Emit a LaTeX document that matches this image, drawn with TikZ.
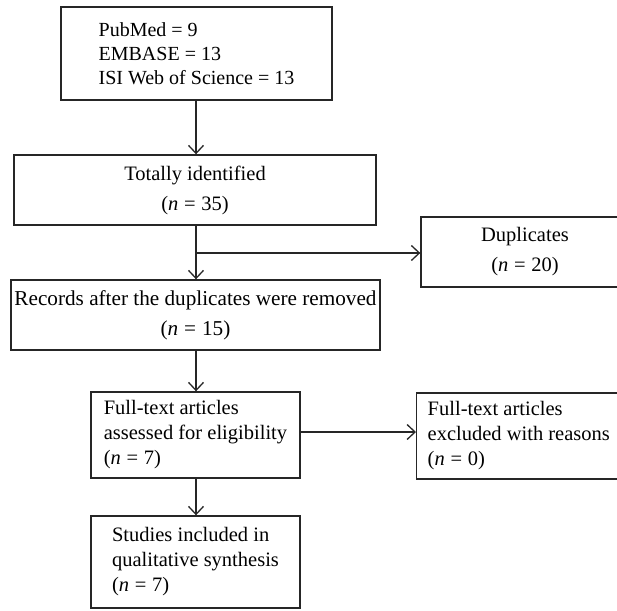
\documentclass[tikz,border=0pt]{standalone}
\usepackage{fontspec}
\setmainfont{Liberation Serif}
\usetikzlibrary{arrows.meta,calc}
\newcommand{\nn}[1]{(\textit{n}\hspace{0.28em}=\hspace{0.28em}#1)}
\begin{document}
\begin{tikzpicture}[x=1pt,y=-1pt,
  box/.style={draw=black!85, line width=1.4pt, inner sep=0pt, font=\fontsize{20.5}{24}\selectfont},
  cbox/.style={box, align=center, font=\fontsize{20.5}{30}\selectfont},
  lbox/.style={box, align=left, font=\fontsize{20.5}{25}\selectfont},
  arr/.style={draw=black!85, line width=1.4pt, -{Straight Barb[length=8pt,width=15pt,line width=1.3pt]}},
  ln/.style={draw=black!85, line width=1.4pt}]
\useasboundingbox (0,0) rectangle (617,610);
\clip (0,0) rectangle (617,610);
\node[lbox, minimum width=271, minimum height=93, font=\fontsize{20}{24}\selectfont] (b1) at (196.5,53.5)
  {PubMed = 9\\EMBASE = 13\\ISI Web of Science = 13};
\node[cbox, minimum width=362, minimum height=70] (b2) at (195,190)
  {Totally identified\\\nn{35}};
\node[cbox, minimum width=208, minimum height=70] (dup) at (525,252)
  {Duplicates\\\nn{20}};
\node[cbox, minimum width=369, minimum height=70, font=\fontsize{21.2}{30}\selectfont] (b3) at (195.5,315)
  {Records after the duplicates were removed\\\nn{15}};
\node[lbox, minimum width=209, minimum height=86] (b4) at (195.5,435)
  {Full-text articles\\assessed for eligibility\\\nn{7}};
\node[lbox, anchor=west, inner xsep=11pt, minimum height=86] (b5) at (416,436)
  {Full-text articles\\excluded with reasons\\\nn{0}};
\node[lbox, minimum width=209, minimum height=92] (b6) at (195.5,562)
  {Studies included in\\qualitative synthesis\\\nn{7}};
\coordinate (br) at (196,253);
\draw[arr] (b1.south -| br) -- (b2.north -| br);
\draw[arr] (b2.south -| br) -- (b3.north -| br);
\draw[arr] (br) -- (br -| dup.west);
\draw[arr] (b3.south -| br) -- (b4.north -| br);
\draw[arr] ([yshift=3pt]b4.east) -- ([yshift=3pt]b4.east -| b5.west);
\draw[arr] (b4.south -| br) -- (b6.north -| br);
\end{tikzpicture}
\end{document}
